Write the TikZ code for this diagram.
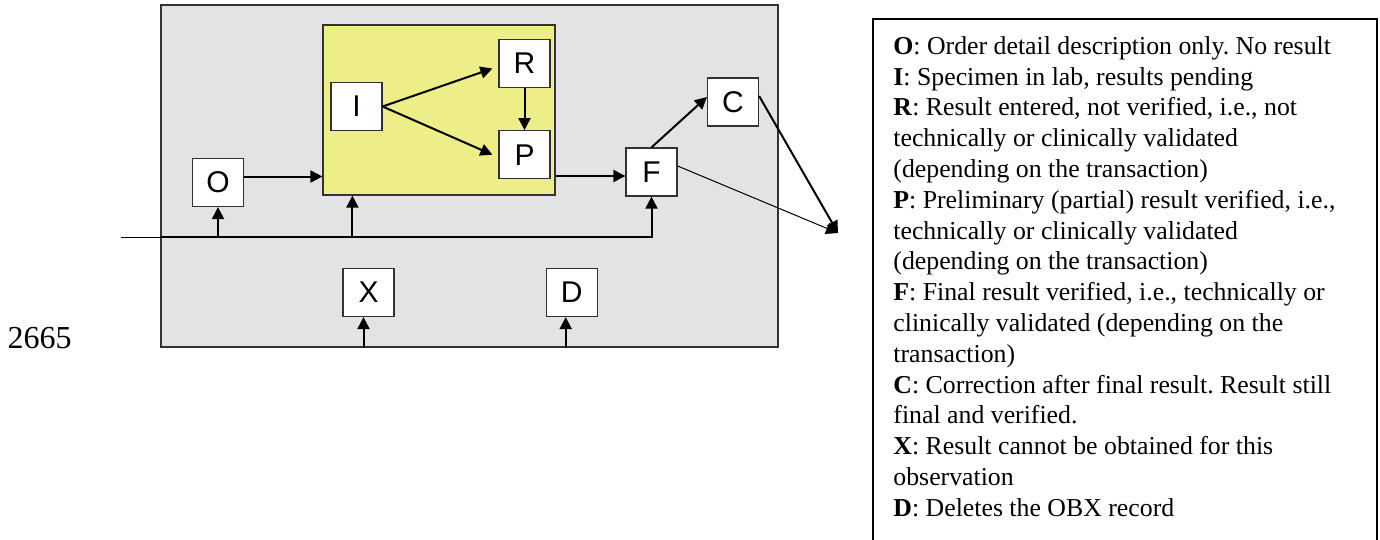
\documentclass[tikz,border=0pt]{standalone}
\usepackage{fontspec}
\setmainfont{Liberation Serif}
\setsansfont{Liberation Sans}
\frenchspacing
\usetikzlibrary{arrows,arrows.meta,positioning,calc}
\definecolor{panelgray}{RGB}{227,227,227}
\definecolor{labyellow}{RGB}{238,238,136}
\definecolor{edgegray}{RGB}{50,50,50}
\tikzset{
    status/.style={
        rectangle,
        draw=edgegray,
        fill=white,
        line width=0.6pt,
        minimum width=25.5pt,
        minimum height=24pt,
        inner sep=0pt,
        font=\sffamily\fontsize{15}{18}\selectfont,
    },
    wire/.style={
        line width=1pt,
    },
}
\begin{document}
\begin{tikzpicture}[x=0.5pt,y=-0.5pt,>={Triangle[length=6pt,width=6pt]}]
    \useasboundingbox (0,0) rectangle (1380,540);
    \node [draw=edgegray,fill=panelgray,line width=0.6pt,minimum width=308.5pt,minimum height=171pt] (obx) at (469.5,176) {};
    \node [draw=edgegray,fill=labyellow,line width=0.6pt,minimum width=116pt,minimum height=85pt] (lab) at (439,110) {};

    \node [status] (O) at (218,182.5) {O};
    \node [status] (I) at (356.5,106.5) {I};
    \node [status] (R) at (524.5,63.5) {R};
    \node [status] (P) [below=21pt of R] {P};
    \node [status] (F) at (651.5,172) {F};
    \node [status] (C) at (733,102) {C};
    \node [status] (X) at (368.5,292.5) {X};
    \node [status] (D) [right=75.5pt of X] {D};
    \coordinate (in) at (121,237);
    \coordinate (end) at (838,233);

    % input line and the arrows fed by it
    \draw [line width=0.5pt] (in) -- (in -| obx.west);
    \draw [wire,->] (in -| obx.west) -- (in -| F) -- (F.south);
    \draw [wire,->] (in -| O) -- (O.south);
    \draw [wire,->] ([xshift=15pt]lab.south west |- in) -- ([xshift=15pt]lab.south west);

    \draw [wire,->] ([yshift=3pt]O.east) -- ([yshift=3pt]O.east -| lab.west);
    \draw [wire,->] ([yshift=-2pt]F.west -| lab.east) -- ([yshift=-2pt]F.west);
    \draw [wire,->] (I.east) -- ([xshift=-3pt,yshift=-2.5pt]R.west);
    \draw [wire,->] (I.east) -- ([xshift=-3pt]P.west);
    \draw [wire,->] (R.south) -- (P.north);
    \draw [wire,->] (F.north) -- ([yshift=2.5pt]C.west);
    \draw [wire,->] ([yshift=3pt]C.east) -- (end);
    \draw [line width=0.5pt,->] ([yshift=3pt]F.east) -- (end);

    \draw [wire,->] ([xshift=-2.5pt]X.south |- obx.south) -- ([xshift=-2.5pt]X.south);
    \draw [wire,->] ([xshift=-3pt]D.south |- obx.south) -- ([xshift=-3pt]D.south);

    \node [anchor=base,inner sep=0pt,font=\fontsize{16}{19}\selectfont] (num) at (39.5,348) {2665};

    % legend
    \draw [line width=1pt] (873,19) rectangle (1377,580);
    \node [anchor=north west,inner sep=0pt,align=left,font=\fontsize{12.9}{15.4}\selectfont] (legend) at (893,36) {%
        \textbf{O}: Order detail description only. No result\\
        \textbf{I}: Specimen in lab, results pending\\
        \textbf{R}: Result entered, not verified, i.e., not\\
        technically or clinically validated\\
        (depending on the transaction)\\
        \textbf{P}: Preliminary (partial) result verified, i.e.,\\
        technically or clinically validated\\
        (depending on the transaction)\\
        \textbf{F}: Final result verified, i.e., technically or\\
        clinically validated (depending on the\\
        transaction)\\
        \textbf{C}: Correction after final result. Result still\\
        final and verified.\\
        \textbf{X}: Result cannot be obtained for this\\
        observation\\
        \textbf{D}: Deletes the OBX record};
\end{tikzpicture}
\end{document}
